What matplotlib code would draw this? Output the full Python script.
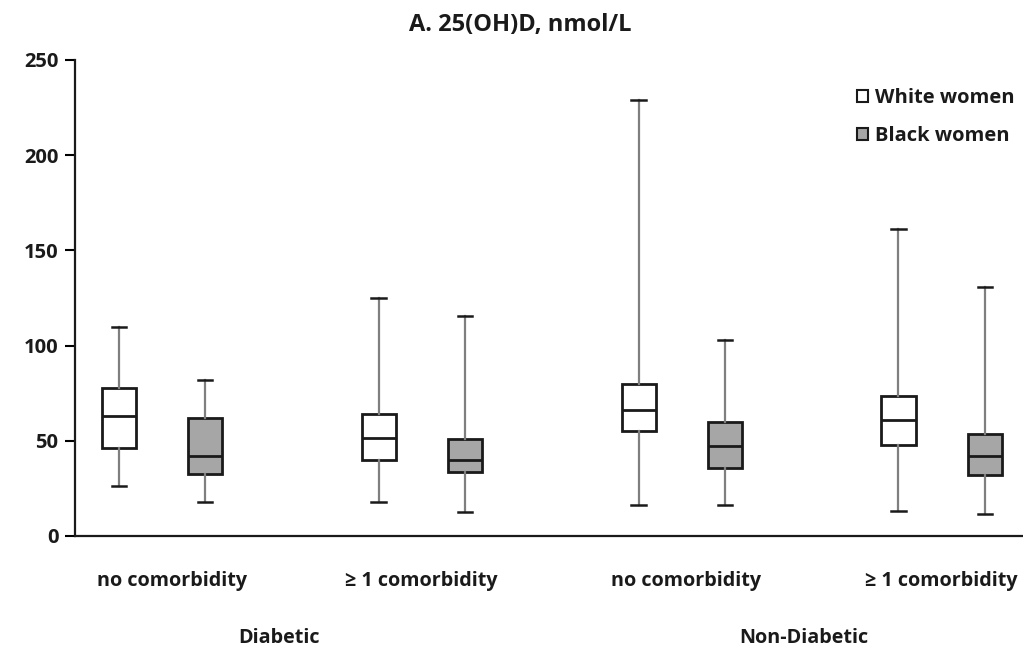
import matplotlib.pyplot as plt
from matplotlib.patches import Patch

# data: box plot stats (nmol/L)
groups = ['no comorbidity', '\u2265 1 comorbidity', 'no comorbidity', '\u2265 1 comorbidity']
outer_labels = ['Diabetic', 'Non-Diabetic']
series = ['White women', 'Black women']

white_lo = [26, 18, 16, 13]
white_q1 = [46, 40, 55, 48]
white_med = [63, 51.5, 66, 61]
white_q3 = [77.5, 64, 80, 73.5]
white_hi = [110, 125, 229, 161]

black_lo = [18, 12.5, 16, 11.5]
black_q1 = [32.5, 33.5, 35.5, 32]
black_med = [42, 40, 47, 42]
black_q3 = [62, 51, 60, 53.5]
black_hi = [82, 115.5, 103, 131]

plt.rcParams['font.family'] = ['Open Sans', 'DejaVu Sans']
plt.rcParams['font.weight'] = 'bold'

fig = plt.figure(figsize=(10.23, 6.52), dpi=100)
ax = fig.add_axes([0.0733, 0.178, 0.93, 0.73])


def make_stats(lo, q1, med, q3, hi):
    return [dict(whislo=a, q1=b, med=c, q3=d, whishi=e, fliers=[])
            for a, b, c, d, e in zip(lo, q1, med, q3, hi)]


x = range(1, len(groups) + 1)
off = 0.166
box_w = 0.131

for stats, shift, fill in [(make_stats(white_lo, white_q1, white_med, white_q3, white_hi), -off, 'white'),
                           (make_stats(black_lo, black_q1, black_med, black_q3, black_hi), off, '#a6a6a6')]:
    ax.bxp(stats, positions=[i + shift for i in x], widths=box_w, patch_artist=True,
           showfliers=False, capwidths=0.055,
           boxprops=dict(facecolor=fill, edgecolor='#1a1a1a', linewidth=2),
           medianprops=dict(color='#1a1a1a', linewidth=2),
           whiskerprops=dict(color='#7f7f7f', linewidth=1.6),
           capprops=dict(color='#1a1a1a', linewidth=1.8))

ax.set_xlim(0.666, 4.326)
ax.set_ylim(0, 250)
ax.set_yticks(range(0, 251, 50))
ax.set_xticks([])
ax.tick_params(axis='y', direction='out', length=7, width=1.5, pad=5, labelsize=14.5, labelcolor='#1a1a1a')
for s in ['top', 'right']:
    ax.spines[s].set_visible(False)
for s in ['left', 'bottom']:
    ax.spines[s].set_linewidth(1.6)
    ax.spines[s].set_color('#1a1a1a')

# category labels under the axis (first one sits a little right in the original)
tr = ax.get_xaxis_transform()
for i, g, nudge in zip(x, groups, [0.04, 0.0, 0.015, 0.0]):
    ax.text(i + nudge, -0.095, g, transform=tr, ha='center', va='center', fontsize=14.2,
            fontweight='bold', color='#1a1a1a')
for xp, g in zip([1.45, 3.47], outer_labels):
    ax.text(xp, -0.215, g, transform=tr, ha='center', va='center', fontsize=14.2,
            fontweight='bold', color='#1a1a1a')

fig.text(520 / 1023, 1 - 25 / 652, 'A. 25(OH)D, nmol/L', ha='center', va='center',
         fontsize=17, fontweight='bold', color='#1a1a1a')

# legend
handles = [Patch(facecolor='white', edgecolor='#1a1a1a', linewidth=1.5),
           Patch(facecolor='#a6a6a6', edgecolor='#1a1a1a', linewidth=1.5)]
ax.legend(handles, series, loc='upper right', bbox_to_anchor=(1.0, 0.967), frameon=False,
          fontsize=14.5, handlelength=0.55, handleheight=0.55, handletextpad=0.35, labelspacing=0.9,
          labelcolor='#1a1a1a', borderaxespad=0.2)

fig.savefig('out.png', dpi=100)
